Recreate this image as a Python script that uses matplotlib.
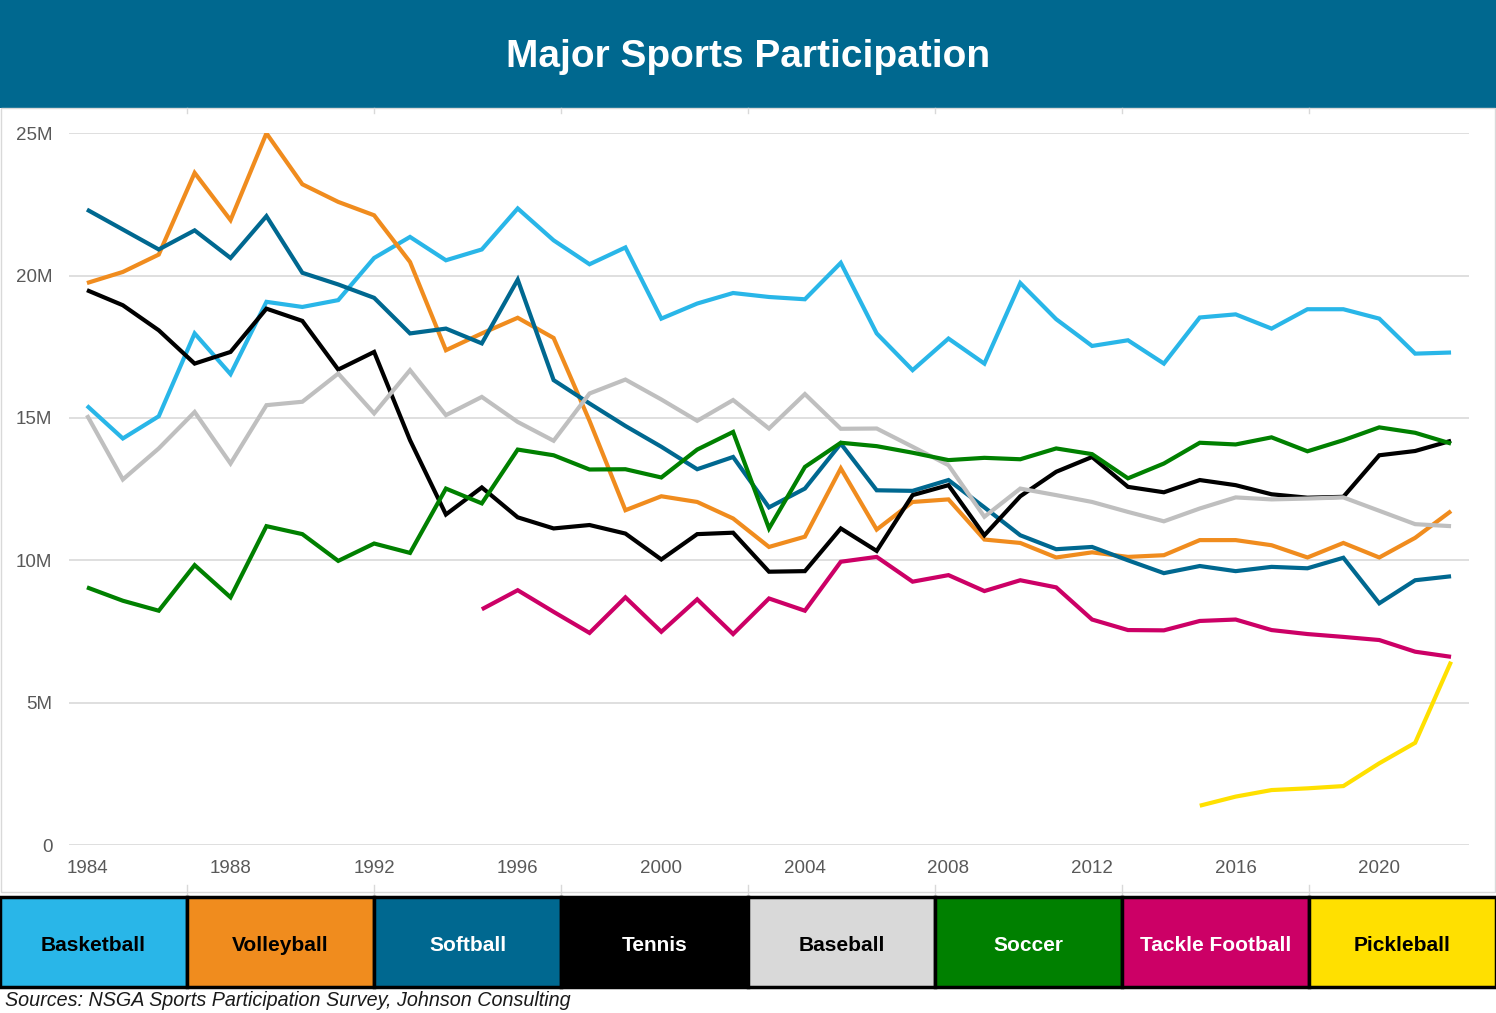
import matplotlib.pyplot as plt
from matplotlib.patches import Rectangle

plt.rcParams['font.family'] = ['Liberation Sans', 'DejaVu Sans']

# data (millions of participants)
years = list(range(1984, 2023))
basketball = [15.43, 14.28, 15.06, 17.97, 16.54, 19.08, 18.90, 19.14, 20.62, 21.36,
              20.54, 20.92, 22.36, 21.24, 20.40, 20.99, 18.49, 19.02, 19.39, 19.25,
              19.17, 20.45, 17.97, 16.68, 17.79, 16.91, 19.74, 18.47, 17.53, 17.73,
              16.91, 18.53, 18.64, 18.14, 18.82, 18.82, 18.49, 17.26, 17.30]
volleyball = [19.74, 20.13, 20.74, 23.61, 21.95, 25.00, 23.21, 22.59, 22.12, 20.48,
              17.38, 17.97, 18.52, 17.81, 14.90, 11.76, 12.25, 12.05, 11.47, 10.47,
              10.83, 13.23, 11.08, 12.05, 12.14, 10.73, 10.61, 10.10, 10.28, 10.12,
              10.18, 10.71, 10.71, 10.53, 10.10, 10.61, 10.10, 10.79, 11.73]
softball = [22.32, 21.62, 20.92, 21.59, 20.62, 22.09, 20.10, 19.69, 19.22, 17.97,
            18.14, 17.62, 19.86, 16.33, 15.51, 14.72, 13.99, 13.20, 13.63, 11.86,
            12.52, 14.10, 12.46, 12.44, 12.82, 11.86, 10.88, 10.39, 10.47, 10.00,
            9.55, 9.80, 9.62, 9.77, 9.72, 10.09, 8.49, 9.30, 9.44]
tennis = [19.49, 18.96, 18.08, 16.91, 17.32, 18.84, 18.41, 16.70, 17.32, 14.22,
          11.61, 12.56, 11.51, 11.12, 11.24, 10.94, 10.03, 10.92, 10.97, 9.60,
          9.62, 11.12, 10.33, 12.29, 12.64, 10.88, 12.25, 13.11, 13.63, 12.58,
          12.39, 12.82, 12.64, 12.32, 12.20, 12.23, 13.69, 13.84, 14.20]
baseball = [15.10, 12.84, 13.93, 15.21, 13.40, 15.45, 15.57, 16.56, 15.16, 16.68,
            15.10, 15.74, 14.86, 14.20, 15.86, 16.35, 15.65, 14.90, 15.63, 14.63,
            15.84, 14.62, 14.63, 13.99, 13.34, 11.53, 12.52, 12.29, 12.05, 11.70,
            11.37, 11.82, 12.21, 12.14, 12.17, 12.21, 11.74, 11.27, 11.20]
soccer = [9.05, 8.58, 8.23, 9.83, 8.70, 11.20, 10.92, 9.98, 10.59, 10.26,
          12.52, 12.00, 13.89, 13.69, 13.19, 13.20, 12.91, 13.89, 14.51, 11.12,
          13.28, 14.13, 14.01, 13.78, 13.52, 13.60, 13.55, 13.93, 13.73, 12.88,
          13.40, 14.13, 14.07, 14.32, 13.83, 14.22, 14.67, 14.48, 14.10]
football_years = list(range(1995, 2023))
football = [8.28, 8.95, 8.19, 7.45, 8.70, 7.49, 8.63, 7.41, 8.66, 8.23,
            9.95, 10.12, 9.25, 9.48, 8.92, 9.30, 9.05, 7.92, 7.55, 7.54,
            7.87, 7.92, 7.55, 7.41, 7.31, 7.20, 6.79, 6.61]
pickle_years = list(range(2015, 2023))
pickleball = [1.38, 1.70, 1.93, 1.99, 2.07, 2.87, 3.59, 6.44]

names = ["Basketball", "Volleyball", "Softball", "Tennis", "Baseball",
         "Soccer", "Tackle Football", "Pickleball"]
line_colors = ["#29B6E8", "#F08C1E", "#006890", "#000000", "#BFBFBF",
               "#008000", "#CC0066", "#FFE000"]
box_colors = ["#29B6E8", "#F08C1E", "#006890", "#000000", "#D9D9D9",
              "#008000", "#CC0066", "#FFE000"]
text_colors = ["black", "black", "white", "white", "black", "white", "white", "black"]

W, H = 1496, 1013
fig = plt.figure(figsize=(W / 100, H / 100), dpi=100)

def fy(py):
    return 1 - py / H

# header banner
fig.patches.append(Rectangle((0, fy(108)), 1, 108 / H, transform=fig.transFigure,
                             facecolor="#00688F", edgecolor="none", zorder=0))
fig.text(0.5, fy(67), "Major Sports Participation", color="white", fontsize=28,
         fontweight="bold", ha="center", va="baseline")

# light frame around the plot region
fig.patches.append(Rectangle((1 / W, fy(892)), (W - 2) / W, (892 - 108) / H,
                             transform=fig.transFigure, facecolor="none",
                             edgecolor="#D9D9D9", lw=1, zorder=0))

ax = fig.add_axes([69 / W, fy(845), 1400 / W, (845 - 133.3) / H])
series = [(years, baseball, 4), (years, soccer, 5), (years, softball, 2),
          (years, volleyball, 1), (years, basketball, 0), (football_years, football, 6),
          (pickle_years, pickleball, 7), (years, tennis, 3)]
for xs, ys, i in series:
    ax.plot(xs, ys, color=line_colors[i], lw=3, solid_joinstyle="miter",
            solid_capstyle="butt", zorder=3 + i * 0.1)

ax.set_xlim(1983.5, 2022.5)
ax.set_ylim(0, 25)
ax.set_yticks([0, 5, 10, 15, 20, 25])
ax.set_yticklabels(["0", "5M", "10M", "15M", "20M", "25M"])
ax.set_xticks(list(range(1984, 2023, 4)))
ax.grid(axis="y", color="#D9D9D9", lw=1.2)
ax.set_axisbelow(True)
for s in ax.spines.values():
    s.set_visible(False)
ax.tick_params(length=0, labelsize=13.5, labelcolor="#595959")
ax.tick_params(axis="y", pad=12)
ax.tick_params(axis="x", pad=11)

# legend boxes
bw = W / 8
for i, name in enumerate(names):
    x0 = i * bw
    fig.patches.append(Rectangle((x0 / W, fy(987)), bw / W, 90 / H,
                                 transform=fig.transFigure, facecolor=box_colors[i],
                                 edgecolor="black", lw=2.5, zorder=2))
    fig.text((x0 + bw / 2) / W, fy(951), name, color=text_colors[i], fontsize=15,
             fontweight="bold", ha="center", va="baseline", zorder=3)
    if i > 0:
        fig.lines.append(plt.Line2D([x0 / W, x0 / W], [fy(108), fy(113)],
                                    transform=fig.transFigure, color="#D9D9D9", lw=1))
        fig.lines.append(plt.Line2D([x0 / W, x0 / W], [fy(885), fy(896)],
                                    transform=fig.transFigure, color="#D9D9D9", lw=1))

fig.text(5 / W, fy(1006), "Sources: NSGA Sports Participation Survey, Johnson Consulting",
         fontsize=14.2, style="italic", color="#1A1A1A", ha="left", va="baseline")

fig.savefig("out.png", dpi=100)
